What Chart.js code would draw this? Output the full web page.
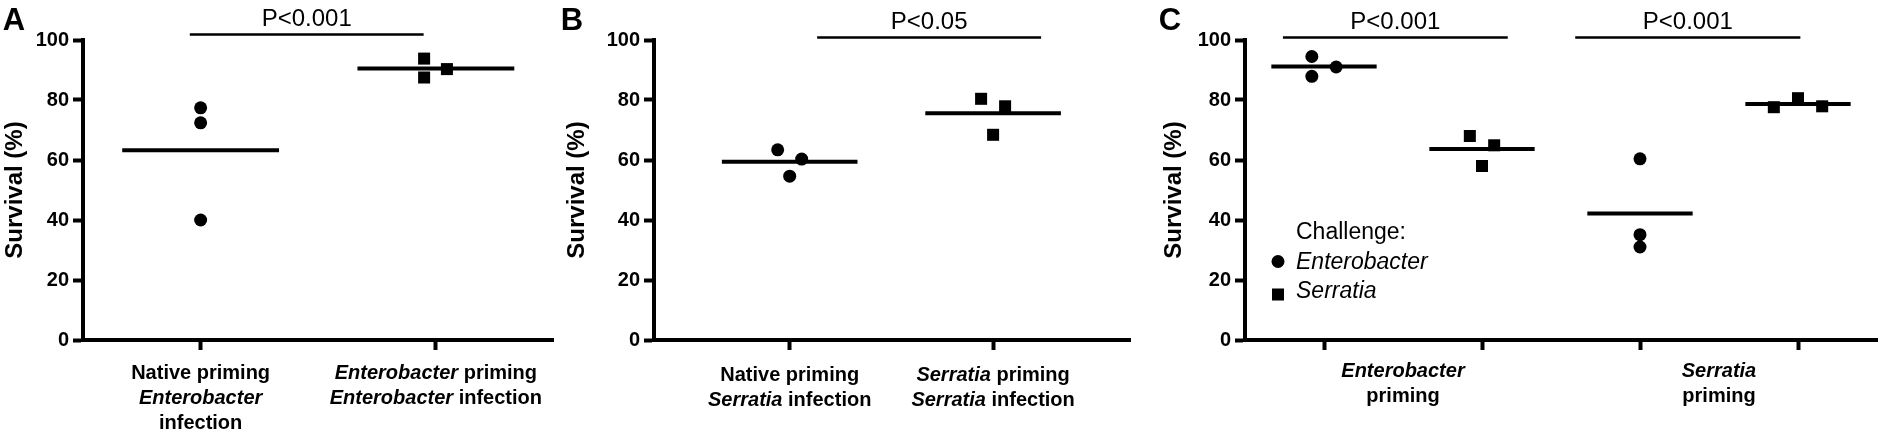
<!DOCTYPE html>
<html>
<head>
<meta charset="utf-8">
<script src="https://cdn.jsdelivr.net/npm/chart.js@4.4.1/dist/chart.umd.min.js"></script>
<style>
  html, body { margin: 0; padding: 0; background: #fff; }
  #wrap { position: relative; width: 1886px; height: 448px; overflow: hidden; background: #fff; }
  canvas { position: absolute; top: 0; }
</style>
</head>
<body>
<div id="wrap">
  <canvas id="panelA" width="562" height="448" style="left:0px"></canvas>
  <canvas id="panelB" width="594" height="448" style="left:556px"></canvas>
  <canvas id="panelC" width="736" height="448" style="left:1150px"></canvas>
</div>
<script>
// ---- data (survival %, three replicates per group) ----
const labelsA = [['Native priming', '*Enterobacter*', 'infection'], ['*Enterobacter* priming', '*Enterobacter* infection']];
const survivalA = [[77.4, 72.4, 40.0], [93.8, 87.5, 90.3]];
const markerA = ['circle', 'rect'];
const spreadA = [[0, 0, 0], [-0.05, -0.05, 0.047]];

const labelsB = [['Native priming', '*Serratia* infection'], ['*Serratia* priming', '*Serratia* infection']];
const survivalB = [[63.4, 60.3, 54.6], [80.4, 77.9, 68.4]];
const markerB = ['circle', 'rect'];
const spreadB = [[-0.059, 0.059, 0], [-0.059, 0.059, 0]];

const primingC = [['*Enterobacter*', 'priming'], ['*Serratia*', 'priming']];
const challengeC = ['Enterobacter', 'Serratia', 'Enterobacter', 'Serratia'];
const survivalC = [[94.5, 87.9, 91.0], [68.0, 64.9, 58.0], [60.4, 35.1, 31.0], [77.6, 80.6, 77.9]];
const markerC = ['circle', 'rect', 'circle', 'rect'];
const spreadC = [[-0.077, -0.077, 0.077], [-0.077, 0.077, 0], [0, 0, 0], [-0.153, 0, 0.153]];

const yTicks = [0, 20, 40, 60, 80, 100];
const pA = [{ from: -0.046, to: 0.948, level: 101.8, text: 'P<0.001' }];
const pB = [{ from: 0.135, to: 1.236, level: 100.8, text: 'P<0.05' }];
const pC = [
  { from: -0.26, to: 1.163, level: 100.8, text: 'P<0.001' },
  { from: 1.59, to: 3.015, level: 100.8, text: 'P<0.001' }
];

const FONT = "'Liberation Sans', Arial, Helvetica, sans-serif";
const INK = '#000';

// draws one label line; parts wrapped in * are italic
function drawRich(ctx, line, cx, y) {
  const parts = line.split('*');
  const fonts = parts.map((_, i) => (i % 2 ? 'italic ' : '') + 'bold 20px ' + FONT);
  let total = 0;
  const widths = parts.map((p, i) => {
    ctx.font = fonts[i];
    const w = ctx.measureText(p).width;
    total += w;
    return w;
  });
  let x = cx - total / 2;
  parts.forEach((p, i) => {
    ctx.font = fonts[i];
    ctx.fillText(p, x, y);
    x += widths[i];
  });
}

const decor = {
  id: 'decor',
  afterDraw(chart, args, opts) {
    const { ctx } = chart;
    const x = chart.scales.x;
    const y = chart.scales.y;
    ctx.save();
    ctx.fillStyle = INK;
    ctx.strokeStyle = INK;
    ctx.textBaseline = 'alphabetic';

    ctx.textAlign = 'center';
    ctx.font = 'bold 31px ' + FONT;
    ctx.fillText(opts.letter, opts.letterX, 30);

    ctx.lineWidth = 2.5;
    ctx.font = '24px ' + FONT;
    opts.brackets.forEach(b => {
      const x1 = x.getPixelForValue(b.from);
      const x2 = x.getPixelForValue(b.to);
      const yl = y.getPixelForValue(b.level);
      ctx.beginPath();
      ctx.moveTo(x1, yl);
      ctx.lineTo(x2, yl);
      ctx.stroke();
      ctx.fillText(b.text, (x1 + x2) / 2, yl - 8.5);
    });

    ctx.textAlign = 'left';
    opts.labels.forEach((lines, i) => {
      const cx = x.getPixelForValue(opts.labelAt[i]);
      lines.forEach((ln, k) => drawRich(ctx, ln, cx, opts.labelTop + k * 25));
    });

    if (opts.legend) {
      const lg = opts.legend;
      ctx.font = '23px ' + FONT;
      ctx.fillText(lg.title, lg.x, lg.y);
      ctx.font = 'italic 23px ' + FONT;
      lg.items.forEach((it, k) => {
        const by = lg.y + 29.5 * (k + 1);
        ctx.fillText(it.text, lg.x, by);
        const r = it.style === 'rect' ? 8.5 : 6.5;
        const my = it.style === 'rect' ? by - 3.5 : by - 7;
        Chart.helpers.drawPoint(ctx, { pointStyle: it.style, radius: r, rotation: 0, borderWidth: 0 }, lg.x - 18, my);
      });
    }
    ctx.restore();
  }
};

function groupSets(values, markers, spread) {
  const sets = [];
  values.forEach((vals, i) => {
    const mean = vals.reduce((a, b) => a + b, 0) / vals.length;
    sets.push({
      data: [{ x: i - 1 / 3, y: mean }, { x: i + 1 / 3, y: mean }],
      showLine: true, pointRadius: 0, borderColor: INK, borderWidth: 4, clip: false
    });
    sets.push({
      data: vals.map((v, k) => ({ x: i + spread[i][k], y: v })),
      pointStyle: markers[i],
      pointRadius: markers[i] === 'rect' ? 8.5 : 6.5,
      pointHoverRadius: markers[i] === 'rect' ? 8.5 : 6.5,
      backgroundColor: INK, borderWidth: 0, clip: false
    });
  });
  return sets;
}

function yAxis(width) {
  return {
    min: 0, max: 100,
    afterBuildTicks: s => { s.ticks = yTicks.map(v => ({ value: v })); },
    ticks: { color: INK, padding: 4, font: { family: FONT, size: 20, weight: 'bold' } },
    grid: { drawOnChartArea: false, tickLength: 10, tickWidth: 4, tickColor: INK },
    border: { display: true, width: 4, color: INK },
    title: { display: true, text: 'Survival (%)', color: INK, padding: 0, font: { family: FONT, size: 24, weight: 'bold', lineHeight: 1.3 } },
    afterFit: s => { s.width = width; }
  };
}

function xAxis(min, max, count) {
  return {
    type: 'linear', min, max,
    afterBuildTicks: s => { s.ticks = Array.from({ length: count }, (_, i) => ({ value: i })); },
    ticks: { callback: () => '' },
    grid: { drawOnChartArea: false, tickLength: 10, tickWidth: 4, tickColor: INK },
    border: { display: true, width: 4, color: INK },
    afterFit: s => { s.height = 108; }
  };
}

function makePanel(id, cfg) {
  return new Chart(document.getElementById(id), {
    type: 'scatter',
    data: { datasets: groupSets(cfg.values, cfg.markers, cfg.spread) },
    options: {
      responsive: false,
      animation: false,
      events: [],
      layout: { padding: cfg.padding },
      scales: { x: xAxis(cfg.xMin, cfg.xMax, cfg.values.length), y: yAxis(cfg.yWidth) },
      plugins: { legend: { display: false }, tooltip: { enabled: false }, decor: cfg.decor }
    },
    plugins: [decor]
  });
}

makePanel('panelA', {
  values: survivalA, markers: markerA, spread: spreadA,
  xMin: -0.5, xMax: 1.5, yWidth: 83,
  padding: { top: 40, left: 0, right: 2, bottom: 0 },
  decor: { letter: 'A', letterX: 14, brackets: pA, labels: labelsA, labelAt: [0, 1], labelTop: 379 }
});

makePanel('panelB', {
  values: survivalB, markers: markerB, spread: spreadB,
  xMin: -0.667, xMax: 1.673, yWidth: 92,
  padding: { top: 40, left: 6, right: 20, bottom: 0 },
  decor: { letter: 'B', letterX: 16, brackets: pB, labels: labelsB, labelAt: [0, 1], labelTop: 381 }
});

makePanel('panelC', {
  values: survivalC, markers: markerC, spread: spreadC,
  xMin: -0.5, xMax: 3.5, yWidth: 86,
  padding: { top: 40, left: 9, right: 9, bottom: 0 },
  decor: {
    letter: 'C', letterX: 20, brackets: pC, labels: primingC, labelAt: [0.5, 2.5], labelTop: 377,
    legend: {
      title: 'Challenge:', x: 146, y: 239,
      items: [{ text: challengeC[0], style: markerC[0] }, { text: challengeC[1], style: markerC[1] }]
    }
  }
});
</script>
</body>
</html>
